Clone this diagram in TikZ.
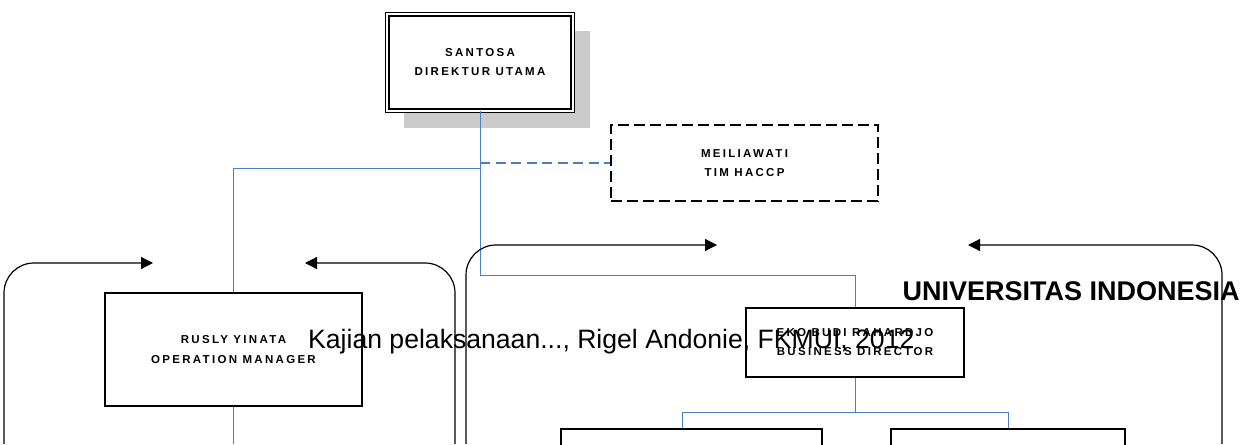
\documentclass[tikz,border=0pt]{standalone}
\usepackage{fontspec}
\setmainfont{Liberation Sans}
\newfontfamily\lblfont[LetterSpace=20]{Liberation Sans}
\usetikzlibrary{arrows.meta,shadows}
\definecolor{linkblue}{HTML}{4A7EC8}
\definecolor{shadowgray}{HTML}{CBCBCB}
\tikzset{
  box/.style={draw=black, line width=1.3pt, rectangle, inner sep=0pt, align=center,
    font=\lblfont\bfseries\fontsize{11.5}{19}\selectfont},
  link/.style={draw=linkblue, line width=1pt},
  dlink/.style={draw=linkblue, line width=2.2pt, dash pattern=on 10pt off 5.5pt},
  bracket/.style={draw=black, line width=1.2pt, rounded corners=30pt,
    -{Triangle[length=12pt,width=12pt]}},
  big/.style={font=\fontsize{26.6}{30}\selectfont, anchor=base west, inner sep=0pt}
}
\begin{document}
\begin{tikzpicture}[x=1pt,y=-1pt]
\useasboundingbox (0,0) rectangle (1241,444);
\clip (0,0) rectangle (1241,444);

% boxes
\node[box, fill=white, double, line width=1.2pt, double distance=2.2pt,
  minimum width=185.4pt, minimum height=96.4pt,
  drop shadow={shadow xshift=17pt, shadow yshift=-17pt, fill=shadowgray, opacity=1}]
  (santosa) at (480,62.5) {SANTOSA\\DIREKTUR UTAMA};
\node[box, line width=2pt, dash pattern=on 11pt off 5pt,
  minimum width=267pt, minimum height=76pt] (meili) at (744.5,163) {MEILIAWATI\\TIM HACCP};
\node[box, minimum width=257pt, minimum height=113pt] (rusly) at (233.5,349.5)
  {RUSLY YINATA\\[1pt]OPERATION MANAGER};
\node[box, minimum width=218pt, minimum height=69pt] (eko) at (855,342.5)
  {EKO BUDI RAHARDJO\\BUSINESS DIRECTOR};
\node[box, minimum width=261pt, minimum height=60pt] (lowl) at (691.5,459) {};
\node[box, minimum width=234pt, minimum height=60pt] (lowr) at (1008,459) {};

% junction coordinates
\coordinate (jr) at (480,168);
\coordinate (je) at (480,275);
\coordinate (ruslyend) at (233.5,444);
\coordinate (bl) at (682,412);
\coordinate (br) at (1008,412);

% blue connectors
\draw[link] (santosa.south) -- (je) -| (eko.north);
\draw[link] (jr) -| (rusly.north);
\draw[dlink] (santosa.south |- meili.west) -- (meili.west);
\draw[link] (rusly.south) -- (ruslyend);
\draw[link] (eko.south) -- (eko.south |- bl);
\draw[link] (bl) -- (br);
\draw[link] (bl) -- (bl |- lowl.north);
\draw[link] (br) -- (lowr.north);

% bracket arrows
\coordinate (g1a) at (4,444);   \coordinate (g1t) at (153,263);
\coordinate (g1b) at (455,444); \coordinate (g1u) at (305,263);
\coordinate (g2a) at (466,444); \coordinate (g2t) at (717,245);
\coordinate (g2b) at (1222,444);\coordinate (g2u) at (968,245);
\draw[bracket] (g1a) |- (g1t);
\draw[bracket] (g1b) |- (g1u);
\draw[bracket] (g2a) |- (g2t);
\draw[bracket] (g2b) |- (g2u);

% overlaid texts
\node[big] (kajian) at (308,348.3) {Kajian pelaksanaan..., Rigel Andonie, FKMUI, 2012};
\node[big, font=\bfseries\fontsize{27}{30}\selectfont] (ui) at (902.5,300.5) {UNIVERSITAS INDONESIA};
\end{tikzpicture}
\end{document}
